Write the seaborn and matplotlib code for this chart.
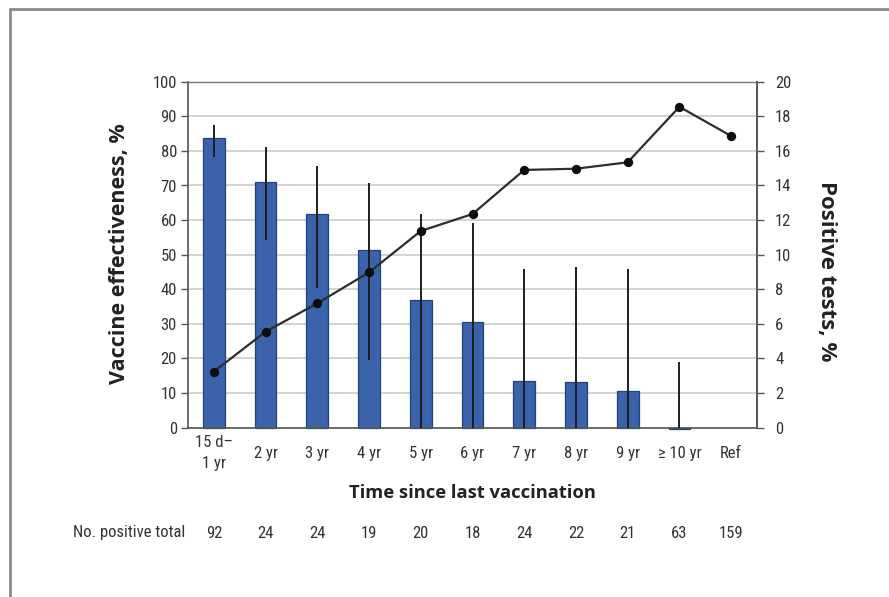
import numpy as np
import pandas as pd
import matplotlib
matplotlib.use("Agg")
import matplotlib.pyplot as plt
from matplotlib import font_manager
from matplotlib.lines import Line2D
import seaborn as sns

# ---- data -------------------------------------------------------------
categories = ["15 d–\n1 yr", "2 yr", "3 yr", "4 yr", "5 yr", "6 yr",
              "7 yr", "8 yr", "9 yr", "≥ 10 yr", "Ref"]
effectiveness = [83.6, 70.9, 61.9, 51.5, 36.9, 30.6, 13.6, 13.3, 10.7, -0.5, np.nan]
ci_low = [78.3, 54.2, 40.3, 19.6, 0.0, 0.0, 0.0, 0.0, 0.0, 0.0, np.nan]
ci_high = [87.5, 81.2, 75.6, 70.8, 61.7, 59.1, 45.9, 46.5, 45.9, 18.9, np.nan]
positive_pct = [3.24, 5.55, 7.19, 8.98, 11.37, 12.35, 14.9, 14.97, 15.34, 18.55, 16.86]
n_positive = [92, 24, 24, 19, 20, 18, 24, 22, 21, 63, 159]
left_ticks = list(range(0, 101, 10))
right_ticks = list(range(0, 21, 2))

df = pd.DataFrame({"period": categories, "ve": effectiveness,
                   "lo": ci_low, "hi": ci_high, "pos": positive_pct})

# ---- fonts -------------------------------------------------------------
ttf = font_manager.fontManager.ttflist


def regular_narrow():
    """A regular-weight condensed family, if one is installed."""
    for want in ("Liberation Sans Narrow", "Roboto Condensed",
                 "Open Sans Condensed", "Noto Sans Condensed"):
        for f in ttf:
            if f.name == want and f.style == "normal" and f.weight in (400, "normal", "regular"):
                return f.name, f.stretch
    for f in ttf:
        if (f.style == "normal" and f.weight in (400, "normal", "regular")
                and f.stretch in ("condensed", "semi-condensed", 75, 87)):
            return f.name, f.stretch
    return "Open Sans", "normal"


narrow, stretch = regular_narrow()
names = {f.name for f in ttf}
bold = "Open Sans" if "Open Sans" in names else "DejaVu Sans"

sns.set_theme(style="white")
plt.rcParams["font.family"] = [narrow, "DejaVu Sans"]
plt.rcParams["font.weight"] = "normal"
plt.rcParams["font.stretch"] = stretch

BAR = "#3a63ab"
BAR_EDGE = "#22427c"
TXT = "#333333"
SPINE = "#555555"

fig = plt.figure(figsize=(8.89, 5.97), dpi=100)
ax = fig.add_axes([188 / 889, 1 - 427.7 / 597, (757 - 188) / 889, (427.7 - 81.7) / 597])

# bars: vaccine effectiveness
sns.barplot(data=df, x="period", y="ve", ax=ax, color=BAR, width=0.42,
            edgecolor=BAR_EDGE, linewidth=0.9, saturation=1, errorbar=None,
            zorder=2)
for p in ax.patches:
    p.set_clip_on(False)

# confidence intervals (no caps)
xpos = np.arange(len(categories))
ax.vlines(xpos, df["lo"], df["hi"], color="#1e1e1e", linewidth=1.4, zorder=3)

ax.set_ylim(0, 100)
ax.set_xlim(-0.5, len(categories) - 0.5)
ax.set_yticks(left_ticks)
ax.yaxis.grid(True, color="#c8c8c8", linewidth=1.1)
ax.set_axisbelow(True)
ax.set_xlabel("")
ax.set_ylabel("")

for side in ["left", "bottom", "right"]:
    ax.spines[side].set_color(SPINE)
    ax.spines[side].set_linewidth(1.2)
ax.spines["top"].set_color("#777777")
ax.spines["top"].set_linewidth(1.0)

ax.tick_params(axis="y", left=True, length=5, width=1, color=SPINE, pad=3,
               labelsize=12, labelcolor=TXT)
ax.tick_params(axis="x", bottom=False, length=0, pad=18.5, labelsize=12,
               labelcolor=TXT)
ax.set_xticks(xpos)
ax.set_xticklabels(categories)
for lab in ax.get_xticklabels():
    lab.set_verticalalignment("center")
    lab.set_linespacing(1.5)
    lab.set_multialignment("center")

# line: share of positive tests
ax2 = ax.twinx()
sns.pointplot(data=df, x="period", y="pos", ax=ax2, color="#111111",
              markers="o", markersize=5.5, linewidth=1.6, errorbar=None)
for ln in ax2.lines:
    ln.set_color("#2d2d2d")
    ln.set_markerfacecolor("#0d0d0d")
    ln.set_markeredgecolor("#0d0d0d")
ax2.set_ylim(0, 20)
ax2.set_xlim(-0.5, len(categories) - 0.5)
ax2.set_yticks(right_ticks)
ax2.set_ylabel("")
ax2.set_xlabel("")
ax2.grid(False)
for side in ["left", "bottom", "top"]:
    ax2.spines[side].set_visible(False)
ax2.spines["right"].set_color(SPINE)
ax2.spines["right"].set_linewidth(1.2)
ax2.tick_params(axis="y", right=True, length=5, width=1, color=SPINE, pad=8,
                labelsize=12, labelcolor=TXT)

# axis titles
title_font = dict(fontweight="bold", fontstretch="normal",
                  family=[bold, "DejaVu Sans"], color="#222222")
fig.text(119 / 889, 1 - 254 / 597, "Vaccine effectiveness, %", rotation=90,
         ha="center", va="center", fontsize=15.5, **title_font)
fig.text(826 / 889, 1 - 271 / 597, "Positive tests, %", rotation=270,
         ha="center", va="center", fontsize=16, **title_font)
fig.text(472 / 889, 1 - 493 / 597, "Time since last vaccination",
         ha="center", va="center", fontsize=13.2, **title_font)

# counts row under the axis
row = ax.get_xaxis_transform()
fig.text(185 / 889, 1 - 533 / 597, "No. positive total", ha="right",
         va="center", fontsize=12, color=TXT)
for x, n in zip(xpos, n_positive):
    ax.annotate(str(n), xy=(x, 0), xycoords=row, xytext=(0, -105.5 * 0.72),
                textcoords="offset points", ha="center", va="center",
                fontsize=12, color=TXT, annotation_clip=False)

# frame around the figure (left and top edges)
fig.add_artist(Line2D([9.5 / 889, 9.5 / 889], [0, 1 - 9 / 597],
                      transform=fig.transFigure, color="#8a8a8a", linewidth=2))
fig.add_artist(Line2D([9.5 / 889, 1], [1 - 9 / 597, 1 - 9 / 597],
                      transform=fig.transFigure, color="#8a8a8a", linewidth=2))

fig.savefig("out.png", dpi=100, facecolor="white")
